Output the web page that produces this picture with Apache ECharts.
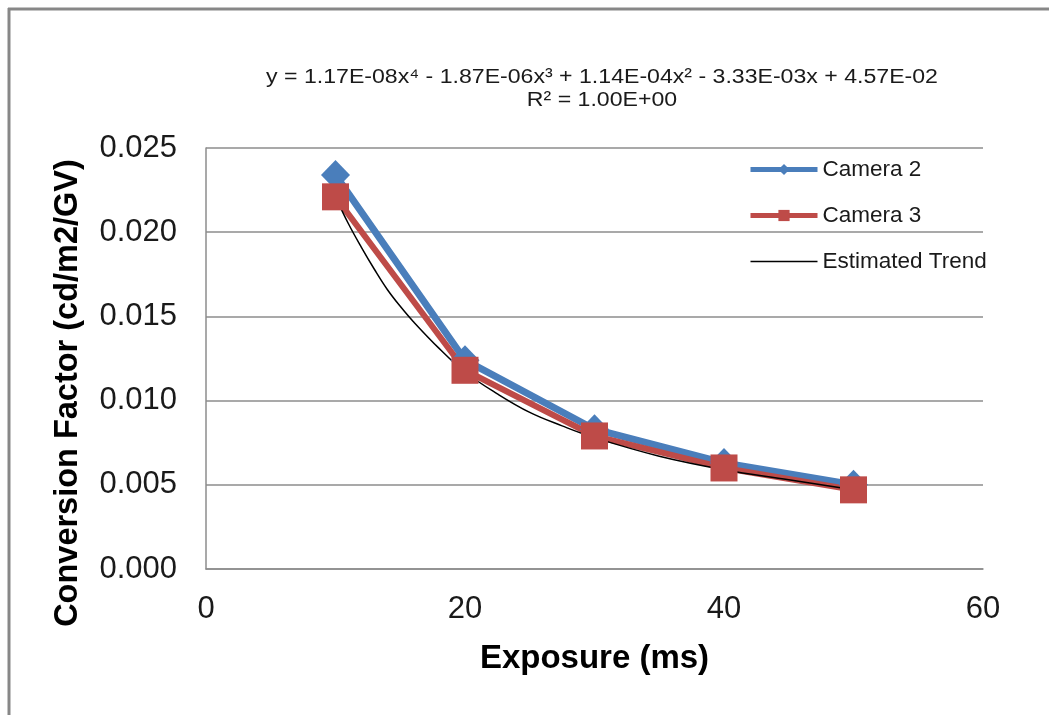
<!DOCTYPE html>
<html>
<head>
<meta charset="utf-8">
<script src="https://cdn.jsdelivr.net/npm/echarts@6/dist/echarts.min.js"></script>
<style>
html,body{margin:0;padding:0;background:#fff;}
#chart{width:1049px;height:715px;}
</style>
</head>
<body>
<div id="chart"></div>
<script>
const exposure = [10, 20, 30, 40, 50];
const camera2 = [0.0234, 0.0124, 0.0083, 0.0063, 0.0050];
const camera3 = [0.0221, 0.0118, 0.0079, 0.0060, 0.0047];
const trendX = [10, 11, 12, 13, 14, 15, 16, 18, 20, 22.5, 25, 27.5, 30, 35, 40, 45, 50];
const trendY = [0.0221, 0.0205, 0.0191, 0.0178, 0.0166, 0.0156, 0.0147, 0.0131, 0.0117, 0.0104, 0.0093, 0.0085, 0.0078, 0.0067, 0.0059, 0.0053, 0.0047];
const xTicks = [0, 20, 40, 60];
const yTicks = [0, 0.005, 0.010, 0.015, 0.020, 0.025];
const equationText = 'y = 1.17E-08x\u2074 - 1.87E-06x\u00b3 + 1.14E-04x\u00b2 - 3.33E-03x + 4.57E-02\nR\u00b2 = 1.00E+00';
const yTitle = 'Conversion Factor (cd/m2/GV)';
const xTitle = 'Exposure (ms)';

const FONT = '"Liberation Sans", Arial, sans-serif';
const pair = (xs, ys) => xs.map((x, i) => [x, ys[i]]);

const chart = echarts.init(document.getElementById('chart'), null, {renderer: 'canvas'});
chart.setOption({
  animation: false,
  backgroundColor: '#fff',
  textStyle: {fontFamily: FONT},
  graphic: [
    {type: 'line', shape: {x1: 8, y1: 9, x2: 1049, y2: 9}, style: {stroke: '#878787', lineWidth: 3}},
    {type: 'line', shape: {x1: 9, y1: 8, x2: 9, y2: 715}, style: {stroke: '#878787', lineWidth: 3}},
    {
      type: 'text', x: 602, y: 66, scaleX: 1.155,
      style: {text: equationText, textAlign: 'center', textVerticalAlign: 'top',
        fontFamily: FONT, fontSize: 20, lineHeight: 23, fill: '#1a1a1a'}
    },
    {
      type: 'text', x: 68, y: 393, rotation: Math.PI / 2,
      style: {text: yTitle, textAlign: 'center', textVerticalAlign: 'middle',
        fontFamily: FONT, fontSize: 32.5, fontWeight: 'bold', fill: '#000'}
    }
  ],
  legend: {
    orient: 'vertical',
    left: 748,
    top: 158,
    padding: 0,
    itemWidth: 67,
    itemHeight: 14,
    itemGap: 23,
    textStyle: {fontFamily: FONT, fontSize: 22.5, color: '#1a1a1a'},
    data: [
      {name: 'Camera 2', lineStyle: {width: 5}},
      {name: 'Camera 3', lineStyle: {width: 5}},
      {name: 'Estimated Trend', lineStyle: {width: 1.5}, itemStyle: {opacity: 0}}
    ]
  },
  grid: {left: 206, top: 148, width: 777, height: 421, containLabel: false},
  xAxis: {
    type: 'value',
    min: xTicks[0],
    max: xTicks[xTicks.length - 1],
    interval: 20,
    name: xTitle,
    nameLocation: 'middle',
    nameGap: 73,
    nameTextStyle: {fontFamily: FONT, fontSize: 33, fontWeight: 'bold', color: '#000'},
    axisLine: {show: true, lineStyle: {color: '#8c8c8c', width: 1.5}},
    axisTick: {show: false},
    splitLine: {show: false},
    axisLabel: {fontFamily: FONT, fontSize: 31, color: '#1a1a1a', margin: 25}
  },
  yAxis: {
    type: 'value',
    min: yTicks[0],
    max: yTicks[yTicks.length - 1],
    interval: 0.005,
    axisLine: {show: true, lineStyle: {color: '#8c8c8c', width: 1.5}},
    axisTick: {show: false},
    splitLine: {show: true, lineStyle: {color: '#8c8c8c', width: 1.5}},
    axisLabel: {fontFamily: FONT, fontSize: 31, color: '#1a1a1a', margin: 29, formatter: v => v.toFixed(3)}
  },
  series: [
    {
      name: 'Camera 2',
      type: 'line',
      data: pair(exposure, camera2),
      symbol: 'diamond',
      symbolSize: [29, 30],
      lineStyle: {color: '#4A7EBB', width: 7},
      itemStyle: {color: '#4A7EBB'}
    },
    {
      name: 'Camera 3',
      type: 'line',
      data: pair(exposure, camera3),
      symbol: 'rect',
      symbolSize: 27,
      lineStyle: {color: '#BE4B48', width: 6},
      itemStyle: {color: '#BE4B48'}
    },
    {
      name: 'Estimated Trend',
      type: 'line',
      data: pair(trendX, trendY),
      symbol: 'none',
      smooth: 0.4,
      lineStyle: {color: '#000', width: 1.5},
      itemStyle: {color: '#000'}
    }
  ]
});
</script>
</body>
</html>
